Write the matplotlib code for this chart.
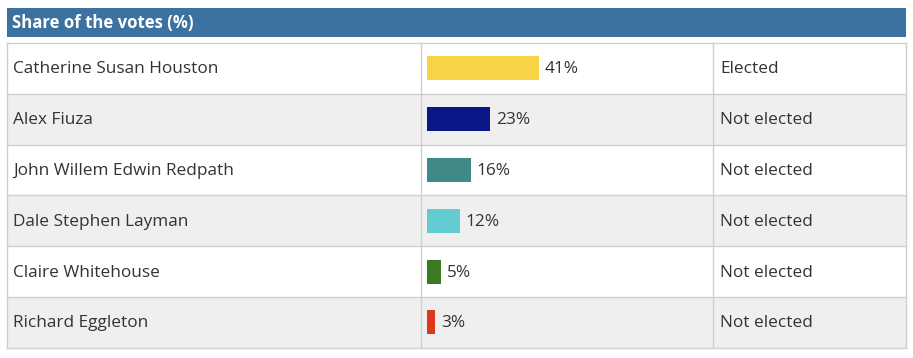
import matplotlib.pyplot as plt
from matplotlib.patches import Rectangle

candidates = ["Catherine Susan Houston", "Alex Fiuza", "John Willem Edwin Redpath",
              "Dale Stephen Layman", "Claire Whitehouse", "Richard Eggleton"]
shares = [41, 23, 16, 12, 5, 3]
status = ["Elected", "Not elected", "Not elected", "Not elected", "Not elected", "Not elected"]
colors = ["#f6d446", "#0b1787", "#3f8a88", "#63ccd3", "#3a7a22", "#e0351f"]

plt.rcParams['font.family'] = ['Open Sans', 'DejaVu Sans']

fig = plt.figure(figsize=(9.13, 3.58), dpi=100)
ax = fig.add_axes([0, 0, 1, 1])
ax.set_xlim(0, 913)
ax.set_ylim(358, 0)
ax.axis("off")

# header bar
ax.add_patch(Rectangle((7, 8), 899, 29, color="#3b72a0", lw=0))
ax.text(12, 23, "Share of the votes (%)", color="white", fontsize=12.1,
        fontweight="bold", va="center", ha="left")

top = 43
row_h = 50.8
px_per_pct = 2.73
line_col = "#cfcfcf"
fs = 12.4

for i, name in enumerate(candidates):
    y0 = top + i * row_h
    yc = y0 + row_h / 2 + 1
    bg = "white" if i % 2 == 0 else "#efefef"
    ax.add_patch(Rectangle((7, y0), 899, row_h, facecolor=bg, lw=0))
    ax.text(13, yc, name, fontsize=fs, color="#333333", va="center", ha="left")
    ax.text(720, yc, status[i], fontsize=fs, color="#333333", va="center", ha="left")
    ax.text(427 + shares[i] * px_per_pct + 6, yc, f"{shares[i]}%", fontsize=fs,
            color="#333333", va="center", ha="left")

ys = [top + i * row_h + row_h / 2 for i in range(len(shares))]
ax.barh(ys, [s * px_per_pct for s in shares], left=427, height=24, color=colors, zorder=3)

# grid lines
bottom = top + row_h * len(candidates)
for i in range(len(candidates) + 1):
    ax.plot([7, 906], [top + i * row_h] * 2, color=line_col, lw=1, zorder=4)
for x in [7, 421, 713, 906]:
    ax.plot([x, x], [top, bottom], color=line_col, lw=1, zorder=4)

fig.savefig("out.png", dpi=100)
